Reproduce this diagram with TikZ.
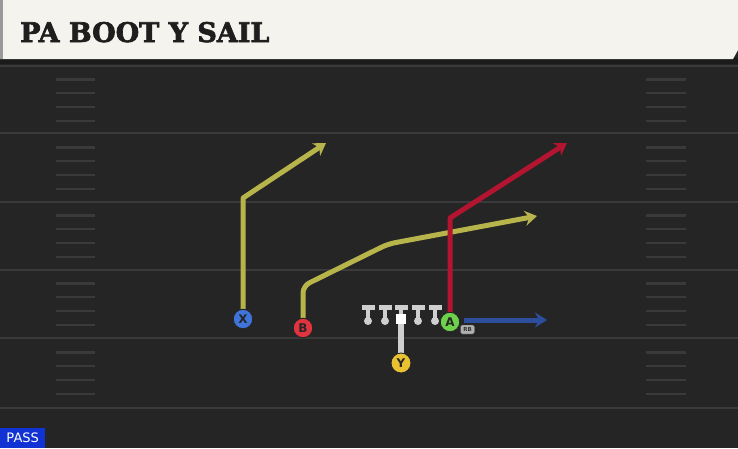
\documentclass[tikz,border=0pt]{standalone}
\usepackage{fontspec}
\setmainfont{DejaVu Sans}
\newfontfamily\titlefont{DejaVu Serif}[FakeBold=2.5]
\usetikzlibrary{arrows.meta}
\pgfdeclarelayer{fieldlayer}
\pgfdeclarelayer{routelayer}
\pgfsetlayers{fieldlayer,routelayer,main}
\definecolor{fieldc}{HTML}{252525}
\definecolor{linec}{HTML}{3A3A3A}
\definecolor{topbar}{HTML}{1B1B1B}
\definecolor{cream}{HTML}{F5F3ED}
\definecolor{titlec}{HTML}{1E1E1E}
\definecolor{routey}{HTML}{B7B44C}
\definecolor{router}{HTML}{B3142F}
\definecolor{routeb}{HTML}{2C4E9C}
\definecolor{xblue}{HTML}{3F74DA}
\definecolor{bred}{HTML}{E2343F}
\definecolor{agreen}{HTML}{6DD14B}
\definecolor{yyellow}{HTML}{E9C232}
\definecolor{olgrey}{HTML}{CFCFCF}
\definecolor{passblue}{HTML}{1233D4}
\tikzset{
  yard/.style={linec, line width=2.5pt},
  hashmark/.style={linec, line width=2.2pt},
  route/.style={line width=5pt, line join=round, -{Stealth[length=12pt,width=15pt,inset=4pt]}},
  player/.style={circle, minimum size=19.5pt, inner sep=0pt, draw=black!85, line width=0.9pt,
    font=\bfseries\fontsize{12}{12}\selectfont, text=black!85},
  lineman/.style={fill=olgrey},
  rbtag/.style={rounded corners=2pt, fill=olgrey!85!black, draw=black!70, line width=0.4pt, inner sep=0pt,
    minimum width=14pt, minimum height=9pt, font=\bfseries\fontsize{5.5}{5.5}\selectfont, text=black!80},
}
\begin{document}
\begin{tikzpicture}[x=1pt,y=-1pt]
\useasboundingbox (0,0) rectangle (738,448);
\begin{pgfonlayer}{fieldlayer}
  \fill[fieldc] (0,0) rectangle (738,448);
  \foreach \yy in {66,133,202,270,338,408} {\draw[yard] (0,\yy) -- (738,\yy);}
  \foreach \b in {66,134,202,270,339} {
    \foreach \o in {13.5,27,41,55} {
      \draw[hashmark] (56,\b+\o) -- (95,\b+\o);
      \draw[hashmark] (646,\b+\o) -- (686,\b+\o);
    }
  }
\end{pgfonlayer}
% title bar
\fill[topbar] (0,58) rectangle (738,64);
\fill[cream] (0,0) -- (738,0) -- (738,50) -- (733,59) -- (0,59) -- cycle;
\fill[black!40] (0,0) rectangle (3,59);
\node[anchor=base west, inner sep=0pt, text=titlec] (title) at (20,42)
  {\titlefont\bfseries\fontsize{27}{27}\selectfont PA BOOT Y SAIL};
% linemen
\foreach \lx in {368,385,418,435} {
  \fill[lineman] (\lx-6.5,305) rectangle (\lx+6.5,310);
  \fill[lineman] (\lx-2.2,310) rectangle (\lx+2.2,320);
  \fill[lineman] (\lx,321) circle (4pt);
}
\fill[lineman] (401-6.5,305) rectangle (401+6.5,310);
\fill[lineman] (401-2.2,310) rectangle (401+2.2,315);
\node[fill=white, minimum size=10pt, inner sep=0pt] (C) at (401,319) {};
% players
\node[player, fill=xblue] (X) at (243,319) {X};
\node[player, fill=bred] (B) at (303,328) {B};
\node[player, fill=agreen] (A) at (450,322) {A};
\node[player, fill=yyellow, minimum size=20pt] (Y) at (401,363) {Y};
\node[rbtag] (RB) at (467.5,329.5) {RB};
% route end points
\coordinate (xbreak) at (243,198);
\coordinate (xend) at (326,143);
\coordinate (bup) at (303,286);
\coordinate (bmid) at (388,244);
\coordinate (bend) at (537,216);
\coordinate (abreak) at (450,218);
\coordinate (aend) at (567,143);
\coordinate (blend) at (547,320);
\begin{pgfonlayer}{routelayer}
  \draw[line width=6pt, olgrey] (C) -- (Y);
  \draw[route, routey] (X) -- (xbreak) -- (xend);
  \draw[route, routey, rounded corners=7pt] (B) -- (bup) -- (bmid) -- (bend);
  \draw[route, router] (A) -- (abreak) -- (aend);
  \draw[route, routeb] (A.east |- blend) ++(4,0) -- (blend);
\end{pgfonlayer}
% pass tag
\node[fill=passblue, text=white, anchor=south west, inner sep=0pt, minimum width=45pt, minimum height=20pt,
  font=\fontsize{13}{13}\selectfont] (pass) at (0,448) {PASS};
\end{tikzpicture}
\end{document}
